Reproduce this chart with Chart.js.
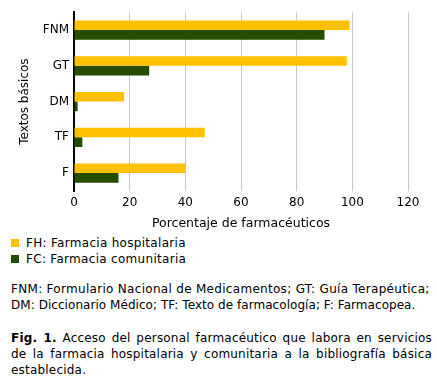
<!DOCTYPE html>
<html>
<head>
<meta charset="utf-8">
<script src="https://cdn.jsdelivr.net/npm/chart.js@4"></script>
<style>
    body { margin: 0; background: #fff; font-family: "DejaVu Sans", sans-serif; color: #000; }
    .wrap { position: relative; width: 437px; height: 382px; }
    .chart-box { position: absolute; left: 0; top: 0; width: 437px; height: 235px; }
    .legend { position: absolute; left: 11px; top: 235px; font-size: 12px; line-height: 16px; letter-spacing: 0.3px; }
    .legend span.sw { display: inline-block; width: 8px; height: 8px; margin-right: 7px; vertical-align: 0px; }
    .note { position: absolute; left: 11px; top: 281px; width: 426px; font-size: 12px; line-height: 16px; white-space: nowrap; }
    .note .a { display: block; letter-spacing: 0.3px; }
    .note .b { display: block; letter-spacing: 0.05px; }
    .caption { position: absolute; left: 11px; top: 330px; width: 421px; font-size: 12px; line-height: 16px; letter-spacing: 0.2px; }
    .caption .j { display: block; text-align: justify; text-align-last: justify; }
    .caption .l { display: block; }
</style>
</head>
<body>
<div class="wrap">
    <div class="chart-box"><canvas id="barChart"></canvas></div>
    <div class="legend" id="legend"></div>
    <div class="note">
        <span class="a">FNM: Formulario Nacional de Medicamentos; GT: Guía Terapéutica;</span>
        <span class="b">DM: Diccionario Médico; TF: Texto de farmacología; F: Farmacopea.</span>
    </div>
    <div class="caption">
        <span class="j"><b>Fig. 1.</b> Acceso del personal farmacéutico que labora en servicios</span>
        <span class="j">de la farmacia hospitalaria y comunitaria a la bibliografía básica</span>
        <span class="l">establecida.</span>
    </div>
</div>
<script>
// Data
const categories = ['FNM', 'GT', 'DM', 'TF', 'F'];
const hospitalValues = [99, 98, 18, 47, 40];
const communityValues = [90, 27, 1.3, 3, 16];
const seriesLabels = ['FH: Farmacia hospitalaria', 'FC: Farmacia comunitaria'];
const xTicks = [0, 20, 40, 60, 80, 100, 120];

const yellow = '#FFC000';
const green = '#254D00';

// HTML legend
const legend = document.getElementById('legend');
[yellow, green].forEach((c, i) => {
    const row = document.createElement('div');
    row.innerHTML = '<span class="sw" style="background:' + c + '"></span>' + seriesLabels[i];
    legend.appendChild(row);
});

const ctx = document.getElementById('barChart').getContext('2d');
const chart = new Chart(ctx, {
    type: 'bar',
    data: {
        labels: categories,
        datasets: [{
            label: seriesLabels[0],
            data: hospitalValues,
            backgroundColor: yellow,
            barPercentage: 1,
            categoryPercentage: 0.54
        }, {
            label: seriesLabels[1],
            data: communityValues,
            backgroundColor: green,
            barPercentage: 1,
            categoryPercentage: 0.54
        }]
    },
    options: {
        indexAxis: 'y',
        responsive: true,
        maintainAspectRatio: false,
        animation: false,
        layout: { padding: { top: 4, right: 29, left: 0, bottom: 0 } },
        plugins: {
            legend: { display: false },
            tooltip: { enabled: false }
        },
        scales: {
            x: {
                min: 0,
                max: 120,
                afterBuildTicks: s => { s.ticks = xTicks.map(v => ({ value: v })); },
                afterFit: s => { s.height = 44; },
                grid: {
                    color: ctx => ctx.tick && ctx.tick.value === 0 ? 'rgba(0,0,0,0)' : '#c8c8c8',
                    drawTicks: false
                },
                border: { display: false },
                ticks: { color: '#000', font: { family: 'DejaVu Sans', size: 12 }, padding: 5 },
                title: { display: true, text: 'Porcentaje de farmacéuticos', color: '#000', font: { family: 'DejaVu Sans', size: 12.5 }, padding: { top: 6 } }
            },
            y: {
                afterFit: s => { s.width = 74; },
                grid: { display: false, drawTicks: false },
                border: { display: true, color: '#000', width: 2 },
                ticks: { color: '#000', font: { family: 'DejaVu Sans', size: 12 }, padding: 5 },
                title: { display: true, text: 'Textos básicos', color: '#000', font: { family: 'DejaVu Sans', size: 12 }, padding: { top: 18, bottom: 0 } }
            }
        }
    }
});
</script>
</body>
</html>
